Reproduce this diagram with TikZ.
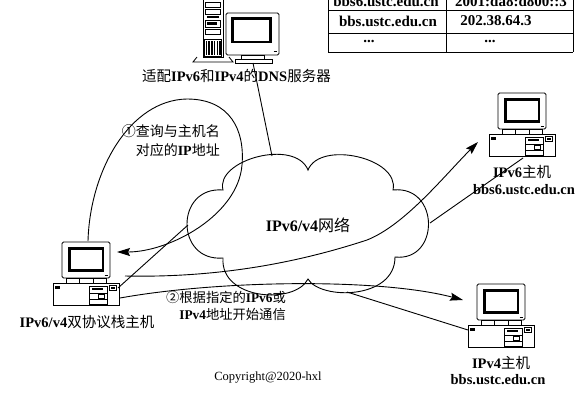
\documentclass[tikz,border=0pt]{standalone}
\usepackage{fontspec}
\setmainfont{Liberation Serif}
\newfontfamily\cjkfont{Noto Sans CJK SC}
\usetikzlibrary{arrows.meta}
\newcommand{\zh}[1]{{\cjkfont #1}}
\newcommand{\lb}[1]{\textbf{#1}}

\tikzset{
  wire/.style={line width=0.9pt},
  arr/.style={wire,-{Stealth[length=13pt,width=8pt,inset=2pt]}},
  lbl/.style={font=\fontsize{14.5}{17}\selectfont, inner sep=0pt},
  note/.style={inner sep=0pt, align=right},
  tbl/.style={font=\fontsize{15}{17}\selectfont\bfseries, inner sep=0pt},
  % desktop computer: origin at the top centre of the system unit
  pics/desktop/.style={code={
    \draw[line width=0.8pt, rounded corners=1.5pt] (-24,-41) rectangle (24,-5);
    \draw[line width=2.6pt] (-16.5,-34.5) rectangle (16.8,-12.5);
    \draw[line width=0.9pt] (18.5,-8) -- (21.5,-8);
    \draw[line width=0.8pt] (-20,-5) rectangle (20,0);
    \draw[line width=0.6pt] (-7,-5) -- (-7,0) (7,-5) -- (7,0);
    \draw[line width=0.8pt] (-33,0) rectangle (33,22);
    \fill (-31,3) rectangle (-26,5.5);
    \draw[line width=0.7pt] (3,3) rectangle (21,21);
    \fill (6,5) rectangle (17,7.2);
    \draw[line width=0.6pt] (3,10) -- (21,10) (3,16) -- (21,16);
    \draw[line width=0.6pt] (12,11) rectangle (18,15);
    \draw[line width=0.7pt] (23.5,2.5) rectangle (30,7);
    \fill (25,3.8) rectangle (28.5,5.7);
  }}
}

\begin{document}
\begin{tikzpicture}[x=1pt,y=-1pt]
\useasboundingbox (0,0) rectangle (581,394);

% ---- DNS server: tower and monitor ----
\draw[line width=0.8pt] (203,-5) rectangle (223,57);
\draw[line width=0.6pt] (205.5,2) rectangle (220.5,7);
\draw[line width=0.6pt] (205.5,9) rectangle (220.5,14);
\fill (207,16) rectangle (219,18);
\draw[line width=0.6pt] (205.5,20) rectangle (220.5,27);
\fill (207,22) rectangle (217,24.5);
\draw[line width=0.6pt] (205.5,29) rectangle (220.5,34);
\draw[line width=0.6pt] (204.5,39) rectangle (221.5,56);
\foreach \i in {0,...,5} \fill (205.6+\i*2.75,41) rectangle ++(1.5,13.5);
\draw[line width=0.8pt] (197,57) -- (193,62) -- (233,62) -- (229,57);
\draw[line width=0.8pt, rounded corners=1.5pt] (226,13) rectangle (279,55);
\draw[line width=2.6pt] (232.2,18.2) rectangle (270.4,41.8);
\draw[line width=0.9pt] (273.5,51.5) -- (276.5,51.5);
\draw[line width=0.7pt] (241,55) rectangle (264,59);
\draw[line width=0.8pt] (235,59) rectangle (272,63);
\node[lbl] (dnslbl) at (236.5,76)
  {\zh{适配}\lb{IPv6}\zh{和}\lb{IPv4}\zh{的}\lb{DNS}\zh{服务器}};

% ---- name / address table ----
\draw[line width=0.8pt] (328,-15) -- (328,52) (446,-15) -- (446,52) (573,-15) -- (573,52);
\draw[line width=0.8pt] (328,10) -- (573,10) (328,33) -- (573,33) (328,52) -- (573,52);
\node[tbl] (t11) at (386,1.5) {bbs6.ustc.edu.cn};
\node[tbl] (t12) at (511,1.5) {2001:da8:d800::3};
\node[tbl] (t21) at (388,21) {bbs.ustc.edu.cn};
\node[tbl] (t22) at (496,21) {202.38.64.3};
\node[tbl] (t31) at (369,41) {...};
\node[tbl] (t32) at (490,41) {...};

% ---- IPv6/v4 network cloud ----
\draw[wire] (223,190) .. controls (215,160) and (295,138) .. (308,170)
  .. controls (320,140) and (400,158) .. (393,190)
  .. controls (440,185) and (440,262) .. (395,257)
  .. controls (395,300) and (320,300) .. (308,279)
  .. controls (295,305) and (220,300) .. (223,258)
  .. controls (175,262) and (175,186) .. cycle;
\node[inner sep=0pt, font=\fontsize{16}{18}\selectfont] (netlbl) at (308,225)
  {\lb{IPv6/v4}\zh{网络}};
\coordinate (net-n) at (272,156);
\coordinate (net-w) at (188,225);
\coordinate (net-e) at (430,223);
\coordinate (net-s) at (347,292);

% ---- hosts ----
\pic (pc1) at (86,283) {desktop};
\pic (pc6) at (522,134) {desktop};
\pic (pc4) at (501,325) {desktop};
\node[lbl] (pc1lbl) at (87,322) {\lb{IPv6/v4}\zh{双协议栈主机}};
\node[lbl] (pc6lbl) at (522,172) {\lb{IPv6}\zh{主机}};
\node[lbl] (pc6name) at (524,190) {\lb{bbs6.ustc.edu.cn}};
\node[lbl] (pc4lbl) at (501,363) {\lb{IPv4}\zh{主机}};
\node[lbl] (pc4name) at (498,380) {\lb{bbs.ustc.edu.cn}};

\coordinate (dns-foot) at (253,63);
\coordinate (pc1-top) at (88,241);
\coordinate (pc1-ret) at (117,252);
\coordinate (pc1-base) at (118,288);
\coordinate (pc1-to6) at (125,276);
\coordinate (pc1-to4) at (120,298);
\coordinate (pc6-tip) at (478,142);
\coordinate (pc6-base) at (523,158);
\coordinate (pc4-tip) at (463,300);
\coordinate (pc4-base) at (468,330);

% ---- attachments to the network ----
\draw[wire] (dns-foot) -- (net-n);
\draw[wire] (pc1-base) -- (net-w);
\draw[wire] (pc6-base) -- (net-e);
\draw[wire] (pc4-base) -- (net-s);

% ---- step 1: name lookup ----
\draw[arr] (pc1-top) .. controls (90,170) and (130,100) .. (187,99)
  .. controls (230,99) and (245,130) .. (242,165)
  .. controls (238,215) and (170,252) .. (pc1-ret);
\node[note, font=\fontsize{14}{19}\selectfont, anchor=east] (step1) at (220,140.5)
  {\zh{①查询与主机名}\\\zh{对应的}\lb{IP}\zh{地址}};

% ---- step 2: communication ----
\draw[arr] (pc1-to6) .. controls (220,278) and (300,262) .. (367,240)
  .. controls (405,225) and (445,175) .. (pc6-tip);
\draw[arr] (pc1-to4) .. controls (220,280) and (380,278) .. (pc4-tip);
\node[note, font=\fontsize{13.3}{17}\selectfont, anchor=east] (step2) at (286,305.5)
  {\zh{②根据指定的}\lb{IPv6}\zh{或}\\\lb{IPv4}\zh{地址开始通信}};

\node[inner sep=0pt, font=\fontsize{12.5}{14}\selectfont] (copy) at (268,378) {Copyright@2020-hxl};
\end{tikzpicture}
\end{document}
